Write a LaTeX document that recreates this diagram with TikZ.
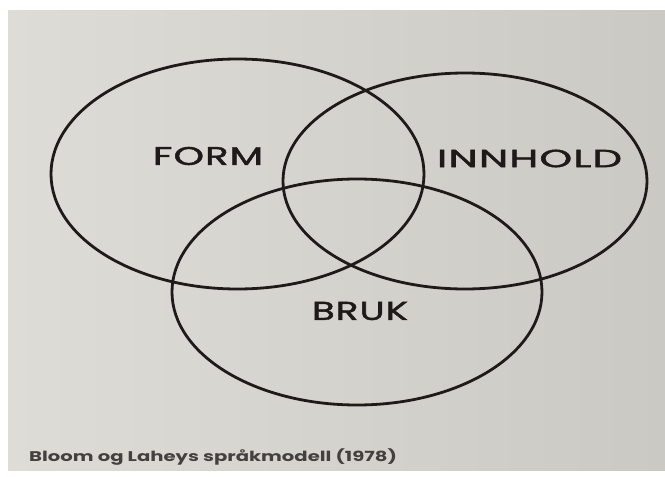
\documentclass[tikz,border=0pt]{standalone}
\usepackage{fontspec}
\setmainfont{Poppins}
\usetikzlibrary{shapes.geometric}
\definecolor{paperL}{HTML}{DEDCD7}
\definecolor{paperR}{HTML}{CBC9C4}
\definecolor{ink}{HTML}{1E1A1A}
\definecolor{capink}{HTML}{454040}
\tikzset{
  ring/.style={draw=ink, line width=2.8pt},
  lbl/.style={text=ink, font=\fontsize{25}{28}\selectfont, inner sep=0pt},
  captext/.style={text=capink, font=\fontsize{14}{16}\selectfont\bfseries, inner sep=0pt, anchor=west}
}
\newcommand{\wideword}[3]{\resizebox{#1pt}{#2pt}{\addfontfeatures{LetterSpace=3,FakeBold=1.5}#3}}
\begin{document}
\begin{tikzpicture}[x=1pt,y=-1pt]
\useasboundingbox (0,0) rectangle (665,477);
\fill[white] (0,0) rectangle (665,477);
\shade[left color=paperL, right color=paperR] (8,10) rectangle (665,470);
\draw[ring] (237.5,174) ellipse [x radius=186.5, y radius=115];
\draw[ring] (465,181) ellipse [x radius=182, y radius=108];
\draw[ring] (357,292) ellipse [x radius=185, y radius=113];
\node[lbl] (form) at (208,156) {\wideword{110}{18}{FORM}};
\node[lbl] (innhold) at (529.5,158.5) {\wideword{185}{17.5}{INNHOLD}};
\node[lbl] (bruk) at (360,311) {\wideword{96}{18}{BRUK}};
\node[captext] (caption) at (29,457) {\scalebox{1.4}[1]{Bloom og Laheys språkmodell (1978)}};
\end{tikzpicture}
\end{document}
